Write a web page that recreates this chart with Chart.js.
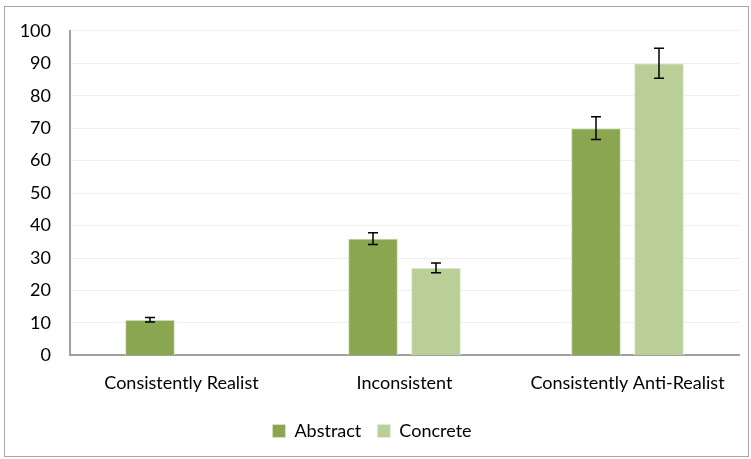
<!DOCTYPE html>
<html>
<head>
<meta charset="utf-8">
<script src="https://cdn.jsdelivr.net/npm/chart.js@4"></script>
<style>
  html, body { margin: 0; padding: 0; background: #fff; }
  #frame { position: absolute; left: 4px; top: 6px; width: 745px; height: 451px; border: 1px solid #a6a6a6; box-sizing: border-box; }
  #chart { position: absolute; left: 5px; top: 1px; display: block; }
</style>
</head>
<body>
<div id="frame"></div>
<canvas id="chart" width="743" height="455"></canvas>
<script>
const categories = ["Consistently Realist", "Inconsistent", "Consistently Anti-Realist"];
const abstractValues = [11, 36, 70];
const abstractErrors = [0.7, 1.8, 3.5];
const concreteValues = [0, 27, 90];
const concreteErrors = [0, 1.5, 4.6];
const yTicks = [0, 10, 20, 30, 40, 50, 60, 70, 80, 90, 100];

const labelFont = { family: "Lato", size: 18 };

const errorBars = {
  id: "errorBars",
  afterDatasetsDraw(chart) {
    const ctx = chart.ctx;
    const y = chart.scales.y;
    chart.data.datasets.forEach((ds, i) => {
      const meta = chart.getDatasetMeta(i);
      meta.data.forEach((bar, j) => {
        const err = ds.errors[j];
        if (!err) return;
        const top = y.getPixelForValue(ds.data[j] + err);
        const bot = y.getPixelForValue(ds.data[j] - err);
        ctx.save();
        ctx.strokeStyle = "#000";
        ctx.lineWidth = 1.5;
        ctx.beginPath();
        ctx.moveTo(bar.x, top); ctx.lineTo(bar.x, bot);
        ctx.moveTo(bar.x - 5, top); ctx.lineTo(bar.x + 5, top);
        ctx.moveTo(bar.x - 5, bot); ctx.lineTo(bar.x + 5, bot);
        ctx.stroke();
        ctx.restore();
      });
    });
  }
};

new Chart(document.getElementById("chart"), {
  type: "bar",
  data: {
    labels: categories,
    datasets: [
      {
        label: "Abstract",
        data: abstractValues,
        errors: abstractErrors,
        backgroundColor: "#8ba650",
        borderColor: "#dde7cc",
        borderWidth: { left: 1, right: 1, top: 1, bottom: 0 },
      },
      {
        label: "Concrete",
        data: concreteValues,
        errors: concreteErrors,
        backgroundColor: "#bacf97",
        borderColor: "#e4ecd6",
        borderWidth: { left: 1, right: 1, top: 1, bottom: 0 },
      },
    ],
  },
  options: {
    responsive: false,
    animation: false,
    layout: { padding: { left: 0, right: 9, top: 8, bottom: 6 } },
    datasets: { bar: { categoryPercentage: 0.565, barPercentage: 0.79 } },
    scales: {
      x: {
        afterFit: (axis) => { axis.height -= 5; },
        grid: { display: false, drawTicks: false },
        border: { color: "#a0a0a0", width: 2 },
        ticks: { color: "#000", font: labelFont, padding: 17, maxRotation: 0 },
      },
      y: {
        min: 0,
        max: 100,
        afterBuildTicks: (axis) => { axis.ticks = yTicks.map((v) => ({ value: v })); },
        afterFit: (axis) => { axis.width = 65; },
        grid: { color: "#efefef", drawTicks: false },
        border: { color: "#a0a0a0", width: 2 },
        ticks: { color: "#000", font: labelFont, padding: 19 },
      },
    },
    plugins: {
      legend: {
        position: "bottom",
        labels: {
          color: "#000",
          font: labelFont,
          boxWidth: 13,
          boxHeight: 13,
          padding: 16,
        },
      },
      tooltip: { enabled: false },
    },
  },
  plugins: [errorBars],
});
</script>
</body>
</html>
